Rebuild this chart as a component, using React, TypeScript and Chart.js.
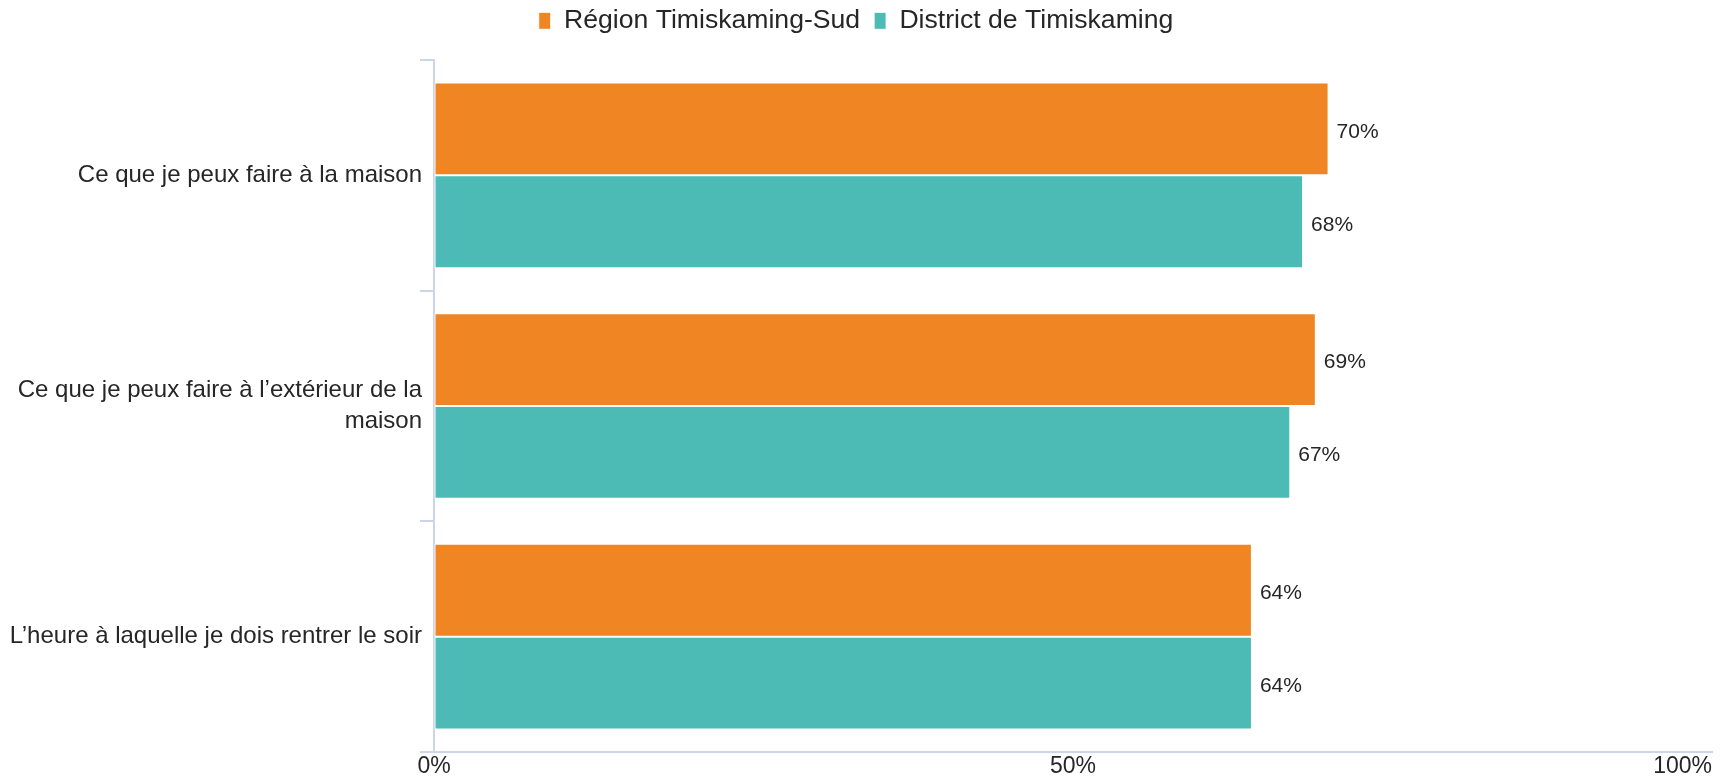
import React, { useEffect, useRef } from 'react';
import { Chart, registerables } from 'chart.js';

Chart.register(...registerables);

// ---- Data ----
const categories: (string | string[])[] = [
  'Ce que je peux faire à la maison',
  ['Ce que je peux faire à l’extérieur de la', 'maison'],
  'L’heure à laquelle je dois rentrer le soir',
];
const seriesNames = ['Région Timiskaming-Sud', 'District de Timiskaming'];
const regionValues = [70, 69, 64];
const districtValues = [68, 67, 64];
const xTickValues = [0, 50, 100];
const xTickLabels = ['0%', '50%', '100%'];

// ---- Styles ----
const FONT = '"Liberation Sans", Arial, Helvetica, sans-serif';
const ORANGE = '#F08623';
const TEAL = '#4CBBB5';
const AXIS = '#ccd6eb';
const TEXT = '#262626';

const valueLabels = {
  id: 'valueLabels',
  afterDatasetsDraw(chart: any) {
    const ctx = chart.ctx;
    ctx.save();
    ctx.font = `21px ${FONT}`;
    ctx.fillStyle = TEXT;
    ctx.textAlign = 'left';
    ctx.textBaseline = 'middle';
    chart.data.datasets.forEach((ds: any, i: number) => {
      const meta = chart.getDatasetMeta(i);
      meta.data.forEach((el: any, j: number) => {
        ctx.fillText(`${ds.data[j]}%`, el.x + 8, el.y + 3);
      });
    });
    ctx.restore();
  },
};

const xAxisLabels = {
  id: 'xAxisLabels',
  afterDraw(chart: any) {
    const ctx = chart.ctx;
    const xs = chart.scales.x;
    ctx.save();
    ctx.font = `23px ${FONT}`;
    ctx.fillStyle = TEXT;
    ctx.textBaseline = 'alphabetic';
    const last = xTickValues.length - 1;
    xTickValues.forEach((v, i) => {
      const px = xs.getPixelForValue(v);
      ctx.textAlign = i === last ? 'right' : 'center';
      ctx.fillText(xTickLabels[i], px, chart.chartArea.bottom + 21);
    });
    ctx.restore();
  },
};

const legendShift = {
  id: 'legendShift',
  afterLayout(chart: any) {
    const lg = chart.legend;
    if (!lg) return;
    lg.top -= 6.5;
    lg.bottom -= 6.5;
  },
};

export default function App() {
  const canvasRef = useRef<HTMLCanvasElement | null>(null);

  useEffect(() => {
    if (!canvasRef.current) return;
    Chart.defaults.font.family = FONT;
    const chart = new Chart(canvasRef.current, {
      type: 'bar',
      data: {
        labels: categories as any,
        datasets: [
          {
            label: seriesNames[0],
            data: regionValues,
            backgroundColor: ORANGE,
            borderColor: '#ffffff',
            borderWidth: 1,
            borderSkipped: false,
            categoryPercentage: 0.805,
            barPercentage: 1,
          },
          {
            label: seriesNames[1],
            data: districtValues,
            backgroundColor: TEAL,
            borderColor: '#ffffff',
            borderWidth: 1,
            borderSkipped: false,
            categoryPercentage: 0.805,
            barPercentage: 1,
          },
        ],
      },
      options: {
        indexAxis: 'y',
        animation: false,
        responsive: true,
        maintainAspectRatio: false,
        layout: { padding: { top: 0, left: 0, right: 17, bottom: 0 } },
        plugins: {
          legend: {
            position: 'top',
            labels: {
              boxWidth: 12,
              boxHeight: 17,
              padding: 14,
              color: TEXT,
              font: { size: 26.6, family: FONT },
            },
          },
          subtitle: {
            display: true,
            text: '',
            position: 'top',
            weight: 100,
            padding: 0,
            font: { size: 9.4, lineHeight: 1 },
          },
          tooltip: { enabled: false },
        },
        scales: {
          x: {
            type: 'linear',
            min: 0,
            max: 100,
            ticks: { display: false, stepSize: 50 },
            grid: { display: true, drawOnChartArea: false, drawTicks: false },
            border: { display: true, color: AXIS, width: 2 },
            afterFit: (s: any) => {
              s.height = 24;
            },
          },
          y: {
            type: 'category',
            grid: {
              display: true,
              drawOnChartArea: false,
              drawTicks: true,
              tickLength: 14,
              color: AXIS,
              lineWidth: 2,
              offset: true,
            },
            border: { display: true, color: AXIS, width: 2 },
            ticks: {
              color: TEXT,
              autoSkip: false,
              padding: -2,
              font: { size: 24, family: FONT, lineHeight: 1.3 },
            },
            afterFit: (s: any) => {
              s.width = 434;
            },
          },
        },
      } as any,
      plugins: [valueLabels, xAxisLabels, legendShift],
    });
    return () => chart.destroy();
  }, []);

  return (
    <div style={{ position: 'fixed', left: 0, top: 0, width: 1729, height: 776, background: '#ffffff' }}>
      <canvas ref={canvasRef} />
    </div>
  );
}
